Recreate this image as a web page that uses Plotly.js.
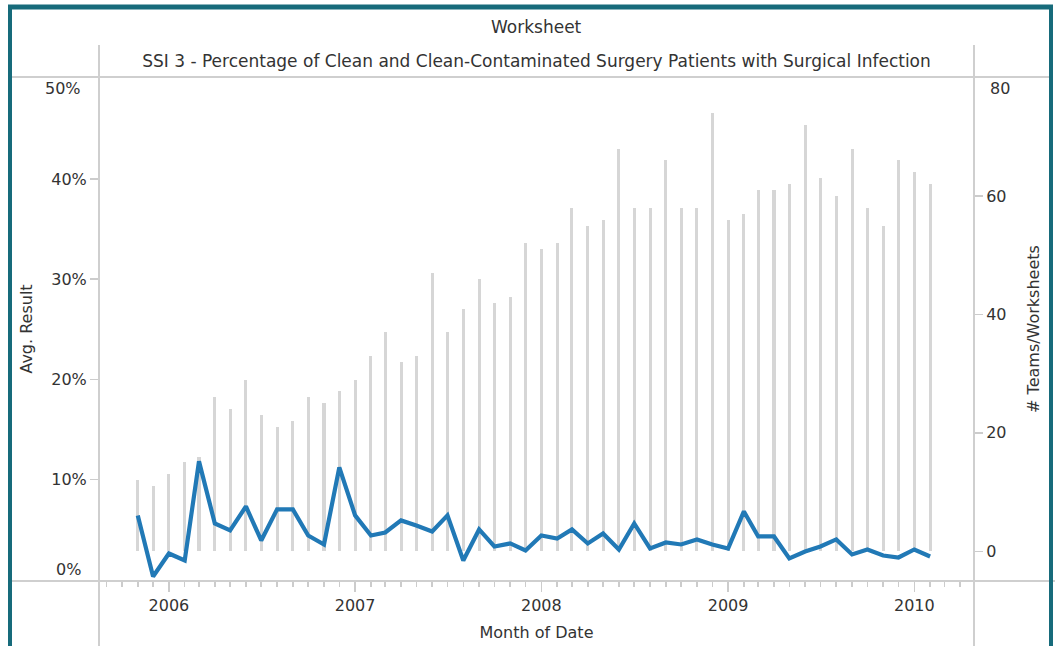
<!DOCTYPE html>
<html>
<head>
<meta charset="utf-8">
<script src="https://cdn.plot.ly/plotly-3.0.1.min.js"></script>
<style>
  html, body { margin: 0; padding: 0; background: #ffffff; }
  #chart { width: 1055px; height: 646px; }
</style>
</head>
<body>
<div id="chart"></div>
<script>
// ---- data ----
const months = [
  '2005-11-01','2005-12-01',
  '2006-01-01','2006-02-01','2006-03-01','2006-04-01','2006-05-01','2006-06-01',
  '2006-07-01','2006-08-01','2006-09-01','2006-10-01','2006-11-01','2006-12-01',
  '2007-01-01','2007-02-01','2007-03-01','2007-04-01','2007-05-01','2007-06-01',
  '2007-07-01','2007-08-01','2007-09-01','2007-10-01','2007-11-01','2007-12-01',
  '2008-01-01','2008-02-01','2008-03-01','2008-04-01','2008-05-01','2008-06-01',
  '2008-07-01','2008-08-01','2008-09-01','2008-10-01','2008-11-01','2008-12-01',
  '2009-01-01','2009-02-01','2009-03-01','2009-04-01','2009-05-01','2009-06-01',
  '2009-07-01','2009-08-01','2009-09-01','2009-10-01','2009-11-01','2009-12-01',
  '2010-01-01','2010-02-01'
];
// # Teams/Worksheets (right axis, bars)
const teamsWorksheets = [
  12, 11,
  13, 15, 16, 26, 24, 29, 23, 21, 22, 26, 25, 27,
  29, 33, 37, 32, 33, 47, 37, 41, 46, 42, 43, 52,
  51, 52, 58, 55, 56, 68, 58, 58, 66, 58, 58, 74,
  56, 57, 61, 61, 62, 72, 63, 60, 68, 58, 55, 66,
  64, 62
];
// Avg. Result (left axis, line), as fractions
const avgResult = [
  0.064, 0.003,
  0.026, 0.019, 0.118, 0.056, 0.049, 0.073, 0.039, 0.070, 0.070, 0.044, 0.035, 0.112,
  0.064, 0.044, 0.047, 0.059, 0.054, 0.048, 0.064, 0.019, 0.050, 0.033, 0.036, 0.029,
  0.044, 0.041, 0.050, 0.036, 0.046, 0.030, 0.056, 0.031, 0.037, 0.035, 0.040, 0.035,
  0.031, 0.068, 0.043, 0.043, 0.021, 0.028, 0.033, 0.040, 0.025, 0.030, 0.024, 0.022,
  0.030, 0.023
];
const leftTicks = [0.1, 0.2, 0.3, 0.4];
const rightTicks = [0, 20, 40, 60];
const headerText = 'Worksheet';
const titleText = 'SSI 3 - Percentage of Clean and Clean-Contaminated Surgery Patients with Surgical Infection';

// ---- styling ----
const FONT = 'DejaVu Sans, Verdana, sans-serif';
const TXT = '#333333';
const GRID = '#cccccc';
const TEAL = '#176b7b';
const W = 1055, H = 646;
const M = { l: 99, r: 81, t: 77, b: 65 };
const pw = W - M.l - M.r, ph = H - M.t - M.b;
const px = v => (v - M.l) / pw;          // pixel x -> paper x
const py = v => (H - M.b - v) / ph;      // pixel y -> paper y
const DAY = 86400000;

const bars = {
  type: 'bar', x: months, y: teamsWorksheets, yaxis: 'y', xaxis: 'x',
  width: 5.9 * DAY,
  marker: { color: '#d6d6d6', line: { width: 0 } },
  name: '# Teams/Worksheets', hoverinfo: 'x+y'
};
const line = {
  type: 'scatter', mode: 'lines', x: months, y: avgResult, yaxis: 'y2', xaxis: 'x',
  line: { color: '#2179b6', width: 4.2 },
  name: 'Avg. Result'
};

const lineShape = (x0, y0, x1, y1, color, w) => ({
  type: 'line', xref: 'paper', yref: 'paper',
  x0: px(x0), y0: py(y0), x1: px(x1), y1: py(y1),
  line: { color: color, width: w }, layer: 'above'
});

const layout = {
  width: W, height: H,
  margin: M,
  paper_bgcolor: '#ffffff', plot_bgcolor: '#ffffff',
  showlegend: false,
  font: { family: FONT, size: 16, color: TXT },
  title: {
    text: titleText, font: { family: FONT, size: 17, color: TXT },
    xref: 'paper', x: 0.5, xanchor: 'center',
    yref: 'container', y: 1 - 61 / H, yanchor: 'middle'
  },
  bargap: 0,
  xaxis: {
    type: 'date',
    range: ['2005-08-17', '2010-04-28'],
    tick0: '2006-01-01', dtick: 'M12', tickformat: '%Y',
    ticks: 'outside', ticklen: 10, tickwidth: 1.5, tickcolor: GRID,
    minor: { dtick: 'M1', tick0: '2005-09-01', ticks: 'outside', ticklen: 5, tickwidth: 1.5, tickcolor: GRID, showgrid: false },
    showgrid: false, zeroline: false, showline: false,
    tickfont: { family: FONT, size: 16, color: TXT },
    title: { text: 'Month of Date', font: { family: FONT, size: 16, color: TXT }, standoff: 12 }
  },
  yaxis: {
    side: 'right',
    range: [-5.02, 80.1],
    tickvals: rightTicks,
    ticks: 'outside', ticklen: 8, tickwidth: 1.5, tickcolor: GRID,
    showgrid: false, zeroline: false, showline: false,
    tickfont: { family: FONT, size: 16, color: TXT },
    title: { text: '# Teams/Worksheets', font: { family: FONT, size: 16, color: TXT }, standoff: 22 }
  },
  yaxis2: {
    overlaying: 'y', side: 'left',
    range: [-0.0015, 0.5019],
    tickvals: leftTicks, tickformat: '.0%',
    ticks: 'outside', ticklen: 8, tickwidth: 1.5, tickcolor: GRID,
    showgrid: false, zeroline: false, showline: false,
    tickfont: { family: FONT, size: 16, color: TXT },
    title: { text: 'Avg. Result', font: { family: FONT, size: 16, color: TXT }, standoff: 14 }
  },
  annotations: [
    { text: headerText, xref: 'paper', yref: 'paper', x: 0.5, y: py(27),
      xanchor: 'center', yanchor: 'middle', showarrow: false,
      font: { family: FONT, size: 17, color: TXT } },
    // end labels of the axes, drawn inside the range as in the reference
    { text: '50%', xref: 'paper', yref: 'y2', x: px(83), y: 0.5, yshift: -10,
      xanchor: 'right', yanchor: 'middle', showarrow: false,
      font: { family: FONT, size: 16, color: TXT } },
    { text: '0%', xref: 'paper', yref: 'y2', x: px(83), y: 0, yshift: 10,
      xanchor: 'right', yanchor: 'middle', showarrow: false,
      font: { family: FONT, size: 16, color: TXT } },
    { text: '80', xref: 'paper', yref: 'y', x: px(988), y: 80, yshift: -11,
      xanchor: 'left', yanchor: 'middle', showarrow: false,
      font: { family: FONT, size: 16, color: TXT } }
  ],
  shapes: [
    // pane frame lines
    lineShape(99, 45, 99, 646, '#cfcfcf', 2),
    lineShape(974, 45, 974, 646, '#cfcfcf', 2),
    lineShape(12, 77, 1050, 77, '#cfcfcf', 2),
    lineShape(12, 581, 1055, 581, '#cfcfcf', 2),
    // teal dashboard border
    lineShape(10, 5, 10, 646, TEAL, 4),
    lineShape(8, 7, 1053, 7, TEAL, 5),
    lineShape(1051, 5, 1051, 646, TEAL, 4)
  ]
};

Plotly.newPlot('chart', [bars, line], layout, { displayModeBar: false, staticPlot: true });
</script>
</body>
</html>
